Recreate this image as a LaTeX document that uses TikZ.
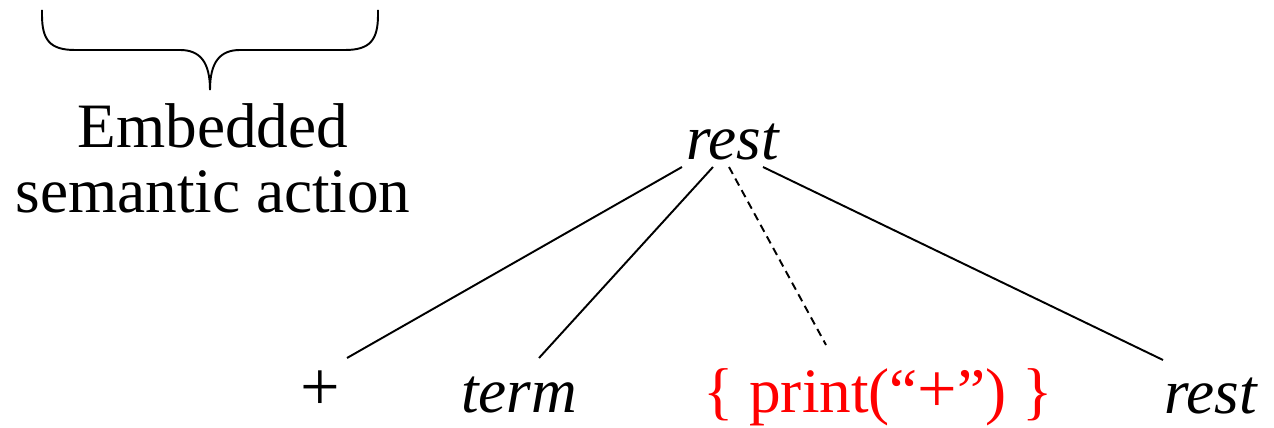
\documentclass[tikz,border=0pt]{standalone}
\usepackage{fontspec}
\setmainfont{Liberation Serif}
\begin{document}
\begin{tikzpicture}[x=0.02cm, y=-0.02cm, line width=1.1pt,
    every node/.style={inner sep=0pt, font=\fontsize{36}{37.4}\selectfont}]
    \useasboundingbox (0,0) rectangle (1274,428);
    % Arbol de derivacion
    \node[anchor=base] (root) at (733,160) {\textit{rest}};
    \node[anchor=base, font=\fontsize{40}{40}\selectfont] (plus) at (320,411) {+};
    \node[anchor=base] (term) at (519,413) {\textit{term}};
    \node[anchor=base, text=red] (act) at (878,413) {\{ print(“\fontsize{40}{40}\selectfont+\fontsize{36}{37.4}\selectfont”) \}};
    \node[anchor=base] (rest) at (1211,414) {\textit{rest}};

    \coordinate (r1) at (682,167);
    \coordinate (r2) at (713,167);
    \coordinate (r3) at (729,167);
    \coordinate (r4) at (763,167);
    \coordinate (p) at (347,358);
    \coordinate (t) at (539,358);
    \coordinate (a) at (826,345);
    \coordinate (s) at (1163,360);
    \draw (r1) -- (p);
    \draw (r2) -- (t);
    \draw[dash pattern=on 4.5pt off 3pt] (r3) -- (a);
    \draw (r4) -- (s);

    % Llave y nota
    \draw (42,10) -- (42,15) .. controls (42,40) and (50,50) .. (75,50) -- (180,50)
      .. controls (200,50) and (210,62) .. (210,90)
      .. controls (210,62) and (220,50) .. (240,50) -- (345,50)
      .. controls (370,50) and (378,40) .. (378,15) -- (378,10);
    \node[anchor=base, align=center] (note) at (213,213) {Embedded\\semantic action};
\end{tikzpicture}
\end{document}
